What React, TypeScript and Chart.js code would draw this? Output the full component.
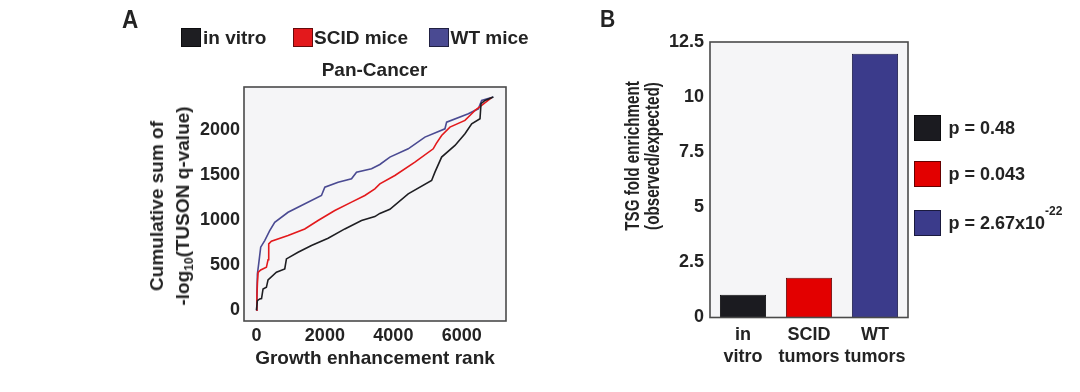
import React, { useEffect, useRef } from 'react';
import { Chart, registerables } from 'chart.js';

Chart.register(...registerables);

const FONT = '"Liberation Sans", Arial, Helvetica, sans-serif';
const TEXT = '#232323';

// ---------- Panel A data ----------
const seriesNames = ['in vitro', 'SCID mice', 'WT mice'];
const seriesColors = ['#1e1e22', '#e3191c', '#4a4a92'];

const inVitroRank = [0, 29, 97, 150, 194, 292, 340, 585, 828, 877, 1217, 1608, 2094, 2582, 3070, 3459, 3605, 3898, 4433, 5117, 5214, 5409, 5799, 6091, 6287, 6530, 6559, 6676, 6919];
const inVitroSum = [0, 107, 126, 130, 237, 255, 337, 422, 459, 570, 644, 718, 800, 903, 996, 1040, 1075, 1120, 1292, 1441, 1533, 1700, 1829, 1959, 2070, 2125, 2292, 2329, 2366];

const scidRank = [0, 15, 30, 50, 126, 292, 340, 360, 438, 925, 1412, 1801, 2290, 2778, 3167, 3459, 3605, 4044, 4629, 5164, 5250, 5409, 5652, 6091, 6287, 6384, 6578, 6870];
const scidSum = [0, 150, 300, 420, 448, 477, 560, 737, 766, 829, 903, 996, 1107, 1200, 1274, 1348, 1403, 1496, 1644, 1792, 1850, 1940, 2033, 2107, 2181, 2218, 2274, 2359];

const wtRank = [0, 15, 29, 67, 126, 243, 389, 535, 925, 1316, 1900, 1998, 2387, 2778, 2924, 3362, 3605, 3898, 4433, 4921, 5506, 5555, 6189, 6482, 6578, 6919];
const wtSum = [0, 200, 403, 514, 700, 774, 885, 977, 1088, 1162, 1274, 1366, 1422, 1459, 1533, 1570, 1618, 1700, 1792, 1922, 2014, 2088, 2181, 2236, 2329, 2366];

const rankTicks = [0, 2000, 4000, 6000];
const sumTicks = [0, 500, 1000, 1500, 2000];

// ---------- Panel B data ----------
const barCategories = [['in', 'vitro'], ['SCID', 'tumors'], ['WT', 'tumors']];
const barValues = [1.03, 1.8, 11.97];
const barColors = ['#1b1b20', '#e30000', '#3b3b8b'];
const barBorderColors = ['#101012', '#6a0a0a', '#22224e'];
const pValueLabels = ['p = 0.48', 'p = 0.043', 'p = 2.67x10'];
const pValueSups = ['', '', '-22'];
const enrichTicks = [0, 2.5, 5, 7.5, 10, 12.5];

const framePlugin = {
  id: 'frame',
  beforeDraw(chart: any) {
    const { ctx, chartArea: a } = chart;
    ctx.save();
    ctx.fillStyle = '#f5f5f7';
    ctx.fillRect(a.left, a.top, a.right - a.left, a.bottom - a.top);
    ctx.restore();
  },
  afterDraw(chart: any) {
    const { ctx, chartArea: a } = chart;
    ctx.save();
    ctx.strokeStyle = '#4a4a4a';
    ctx.lineWidth = 1.6;
    ctx.strokeRect(a.left, a.top, a.right - a.left, a.bottom - a.top);
    ctx.restore();
  },
};

const tickFont = { family: FONT, size: 18, weight: 'bold' as const };

function toPoints(xs: number[], ys: number[]) {
  return xs.map((x, i) => ({ x, y: ys[i] }));
}

function fixedTicks(values: number[]) {
  return (s: any) => {
    s.ticks = values.map((v) => ({ value: v }));
  };
}

function CumulativeChart() {
  const ref = useRef<HTMLCanvasElement | null>(null);
  useEffect(() => {
    if (!ref.current) return;
    const mk = (i: number, xs: number[], ys: number[]) => ({
      label: seriesNames[i],
      data: toPoints(xs, ys),
      borderColor: seriesColors[i],
      backgroundColor: seriesColors[i],
      borderWidth: 1.6,
      pointRadius: 0,
      tension: 0,
      fill: false,
    });
    const chart = new Chart(ref.current, {
      type: 'line',
      data: {
        datasets: [mk(0, inVitroRank, inVitroSum), mk(1, scidRank, scidSum), mk(2, wtRank, wtSum)],
      },
      options: {
        responsive: false,
        animation: false,
        devicePixelRatio: 1,
        layout: { padding: { left: 184, right: 34, top: 87, bottom: 18 } },
        plugins: { legend: { display: false }, title: { display: false }, tooltip: { enabled: false } },
        scales: {
          x: {
            type: 'linear',
            min: -362,
            max: 7289,
            grid: { display: false, drawTicks: false },
            border: { display: false },
            afterBuildTicks: fixedTicks(rankTicks),
            ticks: {
              padding: 4,
              color: TEXT,
              font: tickFont,
              maxRotation: 0,
              autoSkip: false,
              callback: (v: any) => String(v),
            },
            title: {
              display: true,
              text: 'Growth enhancement rank',
              color: TEXT,
              font: { family: FONT, size: 19, weight: 'bold' },
              padding: { top: 4, bottom: 4 },
            },
            afterFit: (s: any) => {
              s.height = 53;
            },
          },
          y: {
            type: 'linear',
            min: -119,
            max: 2478,
            grid: { display: false, drawTicks: false },
            border: { display: false },
            afterBuildTicks: fixedTicks(sumTicks),
            ticks: {
              padding: 4,
              color: TEXT,
              font: tickFont,
              autoSkip: false,
              callback: (v: any) => String(v),
            },
            afterFit: (s: any) => {
              s.width = 60;
            },
          },
        },
      } as any,
      plugins: [framePlugin],
    });
    return () => chart.destroy();
  }, []);
  return <canvas ref={ref} width={540} height={392} style={{ position: 'absolute', left: 0, top: 0, width: 540, height: 392 }} />;
}

function EnrichmentChart() {
  const ref = useRef<HTMLCanvasElement | null>(null);
  useEffect(() => {
    if (!ref.current) return;
    const chart = new Chart(ref.current, {
      type: 'bar',
      data: {
        labels: barCategories as any,
        datasets: [
          {
            label: 'TSG fold enrichment',
            data: barValues,
            backgroundColor: barColors,
            borderColor: barBorderColors,
            borderWidth: 1,
            barPercentage: 0.7,
            categoryPercentage: 1,
          },
        ],
      },
      options: {
        responsive: false,
        animation: false,
        devicePixelRatio: 1,
        layout: { padding: { left: 90, right: 172, top: 42, bottom: 0 } },
        plugins: { legend: { display: false }, title: { display: false }, tooltip: { enabled: false } },
        scales: {
          x: {
            grid: { display: false, drawTicks: false },
            border: { display: false },
            ticks: { padding: 7, color: TEXT, font: tickFont, maxRotation: 0, autoSkip: false },
            afterFit: (s: any) => {
              s.height = 74.5;
            },
          },
          y: {
            min: 0,
            max: 12.5,
            grid: { display: false, drawTicks: false },
            border: { display: false },
            afterBuildTicks: fixedTicks(enrichTicks),
            ticks: {
              padding: 6,
              color: TEXT,
              font: tickFont,
              autoSkip: false,
              callback: (v: any) => String(v),
            },
            afterFit: (s: any) => {
              s.width = 60;
            },
          },
        },
      } as any,
      plugins: [framePlugin],
    });
    return () => chart.destroy();
  }, []);
  return <canvas ref={ref} width={520} height={392} style={{ position: 'absolute', left: 560, top: 0, width: 520, height: 392 }} />;
}

function Txt(props: { left: number; baseline: number; size: number; children: any; style?: any }) {
  const { left, baseline, size, children, style } = props;
  return (
    <div
      style={{
        position: 'absolute',
        left,
        top: baseline - 0.8465 * size,
        fontFamily: FONT,
        fontWeight: 'bold',
        fontSize: size,
        lineHeight: `${size}px`,
        color: TEXT,
        whiteSpace: 'nowrap',
        ...style,
      }}
    >
      {children}
    </div>
  );
}

function Swatch(props: { left: number; top: number; w: number; h: number; color: string }) {
  return (
    <div
      style={{
        position: 'absolute',
        left: props.left,
        top: props.top,
        width: props.w,
        height: props.h,
        background: props.color,
        boxSizing: 'border-box',
        border: '1px solid rgba(0,0,0,0.55)',
      }}
    />
  );
}

export default function App() {
  const legendAX = [181, 293.3, 429.3];
  const legendATextX = [203, 314, 450.5];
  const legendBTop = [115, 161, 210];
  return (
    <div style={{ position: 'absolute', left: 0, top: 0, width: 1080, height: 392, background: '#ffffff', overflow: 'hidden' }}>
      <CumulativeChart />
      <EnrichmentChart />

      {/* Panel letters */}
      <Txt left={122} baseline={28} size={25} style={{ transform: 'scaleX(0.9)', transformOrigin: 'left center', fontWeight: 900 }}>A</Txt>
      <Txt left={600} baseline={27.3} size={24} style={{ transform: 'scaleX(0.88)', transformOrigin: 'left center', fontWeight: 900 }}>B</Txt>

      {/* Panel A legend */}
      {seriesNames.map((n, i) => (
        <React.Fragment key={n}>
          <Swatch left={legendAX[i]} top={28.3} w={19.5} h={18.5} color={seriesColors[i]} />
          <Txt left={legendATextX[i]} baseline={44.5} size={19}>{n}</Txt>
        </React.Fragment>
      ))}

      {/* Panel A title */}
      <Txt left={374.5} baseline={76} size={19} style={{ transform: 'translateX(-50%)' }}>Pan-Cancer</Txt>

      {/* Panel A y title */}
      <div
        style={{
          position: 'absolute',
          left: 169.7,
          top: 205.5,
          transform: 'translate(-50%, -50%) rotate(-90deg)',
          fontFamily: FONT,
          fontWeight: 'bold',
          fontSize: 19,
          lineHeight: '26px',
          color: TEXT,
          whiteSpace: 'nowrap',
          textAlign: 'center',
        }}
      >
        <div>Cumulative sum of</div>
        <div>
          -log<span style={{ fontSize: 12, position: 'relative', top: 4, lineHeight: 0 }}>10</span>(TUSON q-value)
        </div>
      </div>

      {/* Panel B y title */}
      <div
        style={{
          position: 'absolute',
          left: 642.3,
          top: 155.5,
          transform: 'translate(-50%, -50%) rotate(-90deg) scaleX(0.76)',
          fontFamily: FONT,
          fontWeight: 'bold',
          fontSize: 20,
          lineHeight: '20px',
          color: TEXT,
          whiteSpace: 'nowrap',
          textAlign: 'center',
        }}
      >
        <div>TSG fold enrichment</div>
        <div>(observed/expected)</div>
      </div>

      {/* Panel B legend */}
      {pValueLabels.map((t, i) => (
        <React.Fragment key={t}>
          <Swatch left={914.3} top={legendBTop[i]} w={26.4} h={26} color={barColors[i]} />
          <Txt left={948.5} baseline={legendBTop[i] + 19.4} size={18}>
            {t}
            {pValueSups[i] ? (
              <span style={{ fontSize: 12, position: 'relative', top: -14, lineHeight: 0 }}>{pValueSups[i]}</span>
            ) : null}
          </Txt>
        </React.Fragment>
      ))}
    </div>
  );
}
